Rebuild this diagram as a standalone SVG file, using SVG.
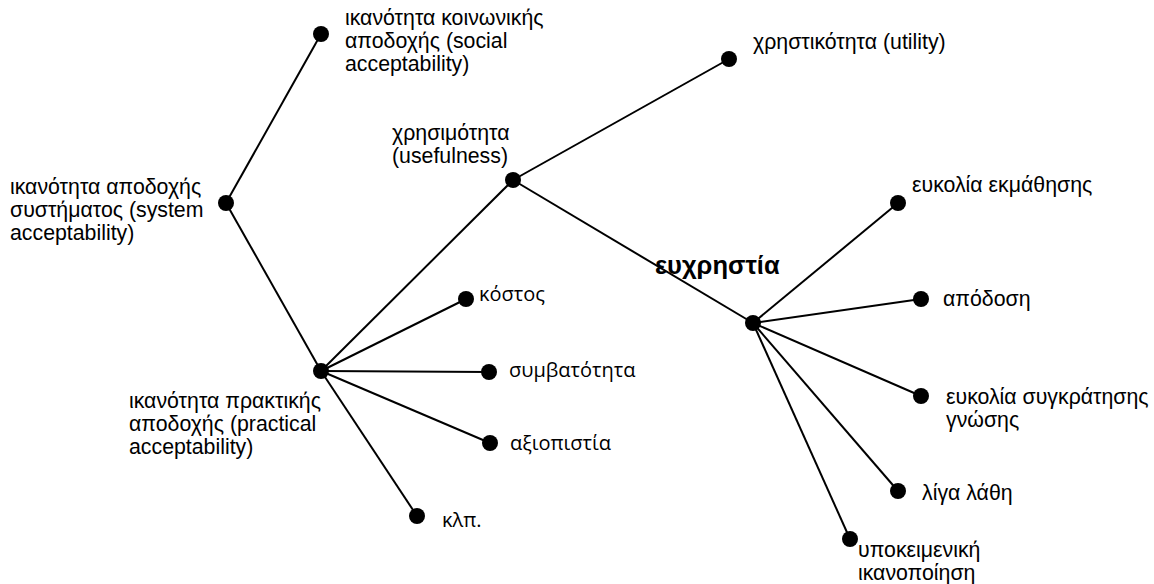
<svg xmlns="http://www.w3.org/2000/svg" width="1154" height="584" viewBox="0 0 1154 584">
  <style>
    .edge { stroke: #000; stroke-width: 2; fill: none; }
    .dot { fill: #000; }
    .lbl { font-family: "Liberation Sans", Arial, sans-serif; font-size: 21.3px; fill: #000; }
    .lbl2 { font-family: "Open Sans", "Noto Sans", sans-serif; font-size: 20px; fill: #000; }
    .title { font-family: "Liberation Sans", Arial, sans-serif; font-size: 25.5px; font-weight: bold; fill: #000; }
  </style>
  <rect width="1154" height="584" fill="#fff"/>

  <!-- connectors -->
  <g id="connectors">
    <line class="edge" x1="226" y1="203" x2="321" y2="34"/>
    <line class="edge" x1="226" y1="203" x2="321" y2="371"/>
    <line class="edge" x1="321" y1="371" x2="513" y2="180"/>
    <line class="edge" x1="321" y1="371" x2="466" y2="299"/>
    <line class="edge" x1="321" y1="371" x2="489" y2="372"/>
    <line class="edge" x1="321" y1="371" x2="490" y2="443"/>
    <line class="edge" x1="321" y1="371" x2="417" y2="516"/>
    <line class="edge" x1="513" y1="180" x2="729" y2="59"/>
    <line class="edge" x1="513" y1="180" x2="753" y2="323"/>
    <line class="edge" x1="753" y1="323" x2="898" y2="203"/>
    <line class="edge" x1="753" y1="323" x2="921" y2="299"/>
    <line class="edge" x1="753" y1="323" x2="921" y2="396"/>
    <line class="edge" x1="753" y1="323" x2="898" y2="491"/>
    <line class="edge" x1="753" y1="323" x2="850" y2="539"/>
  </g>

  <g id="system">
    <circle class="dot" cx="226" cy="203" r="8"/>
    <text class="lbl" x="10" y="194">ικανότητα αποδοχής</text>
    <text class="lbl" x="10" y="217">συστήματος (system</text>
    <text class="lbl" x="10" y="240">acceptability)</text>
  </g>

  <g id="social">
    <circle class="dot" cx="321" cy="34" r="8"/>
    <text class="lbl" x="345" y="25">ικανότητα κοινωνικής</text>
    <text class="lbl" x="345" y="48">αποδοχής (social</text>
    <text class="lbl" x="345" y="71">acceptability)</text>
  </g>

  <g id="practical">
    <circle class="dot" cx="321" cy="371" r="8"/>
    <text class="lbl" x="129" y="408">ικανότητα πρακτικής</text>
    <text class="lbl" x="129" y="431">αποδοχής (practical</text>
    <text class="lbl" x="129" y="454">acceptability)</text>
  </g>

  <g id="usefulness">
    <circle class="dot" cx="513" cy="180" r="8"/>
    <text class="lbl" x="392" y="140">χρησιμότητα</text>
    <text class="lbl" x="392" y="163">(usefulness)</text>
  </g>

  <g id="utility">
    <circle class="dot" cx="729" cy="59" r="8"/>
    <text class="lbl" x="753" y="49">χρηστικότητα (utility)</text>
  </g>

  <g id="cost">
    <circle class="dot" cx="466" cy="299" r="8"/>
    <text class="lbl2" x="479" y="301">κόστος</text>
  </g>

  <g id="compatibility">
    <circle class="dot" cx="489" cy="372" r="8"/>
    <text class="lbl2" x="509" y="377">συμβατότητα</text>
  </g>

  <g id="reliability">
    <circle class="dot" cx="490" cy="443" r="8"/>
    <text class="lbl2" x="510" y="450">αξιοπιστία</text>
  </g>

  <g id="etc">
    <circle class="dot" cx="417" cy="516" r="8"/>
    <text class="lbl2" x="442" y="527">κλπ.</text>
  </g>

  <g id="usability">
    <circle class="dot" cx="753" cy="323" r="8"/>
    <text class="title" x="655" y="274">ευχρηστία</text>
  </g>

  <g id="learnability">
    <circle class="dot" cx="898" cy="203" r="8"/>
    <text class="lbl" x="912" y="192">ευκολία εκμάθησης</text>
  </g>

  <g id="efficiency">
    <circle class="dot" cx="921" cy="299" r="8"/>
    <text class="lbl" x="943" y="306">απόδοση</text>
  </g>

  <g id="memorability">
    <circle class="dot" cx="921" cy="396" r="8"/>
    <text class="lbl" x="946" y="404">ευκολία συγκράτησης</text>
    <text class="lbl" x="946" y="427">γνώσης</text>
  </g>

  <g id="errors">
    <circle class="dot" cx="898" cy="491" r="8"/>
    <text class="lbl" x="922" y="500">λίγα λάθη</text>
  </g>

  <g id="satisfaction">
    <circle class="dot" cx="850" cy="539" r="8"/>
    <text class="lbl" x="858" y="557">υποκειμενική</text>
    <text class="lbl" x="858" y="580">ικανοποίηση</text>
  </g>
</svg>
